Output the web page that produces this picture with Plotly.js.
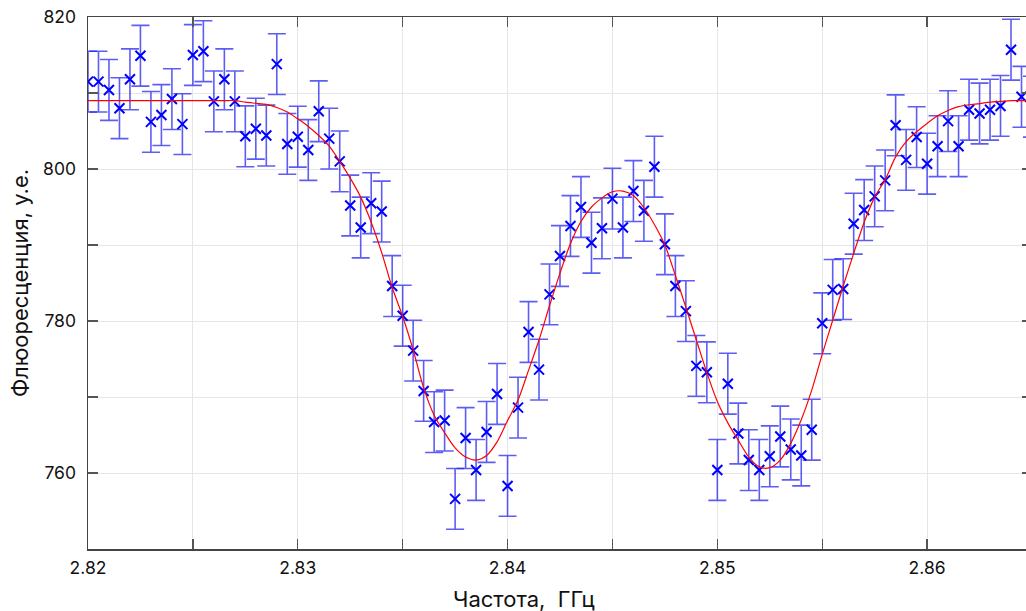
<!DOCTYPE html>
<html>
<head>
<meta charset="utf-8">
<script src="https://cdn.plot.ly/plotly-3.0.1.min.js"></script>
<style>
  html, body { margin: 0; padding: 0; overflow: hidden; background: #fff; }
  #chart { width: 1040px; height: 611px; }
</style>
</head>
<body>
<div id="chart"></div>
<script>
// Frequency, GHz
const freq = [
  2.8200, 2.8205, 2.8210, 2.8215, 2.8220, 2.8225, 2.8230, 2.8235, 2.8240, 2.8245,
  2.8250, 2.8255, 2.8260, 2.8265, 2.8270, 2.8275, 2.8280, 2.8285, 2.8290, 2.8295,
  2.8300, 2.8305, 2.8310, 2.8315, 2.8320, 2.8325, 2.8330, 2.8335, 2.8340, 2.8345,
  2.8350, 2.8355, 2.8360, 2.8365, 2.8370, 2.8375, 2.8380, 2.8385, 2.8390, 2.8395,
  2.8400, 2.8405, 2.8410, 2.8415, 2.8420, 2.8425, 2.8430, 2.8435, 2.8440, 2.8445,
  2.8450, 2.8455, 2.8460, 2.8465, 2.8470, 2.8475, 2.8480, 2.8485, 2.8490, 2.8495,
  2.8500, 2.8505, 2.8510, 2.8515, 2.8520, 2.8525, 2.8530, 2.8535, 2.8540, 2.8545,
  2.8550, 2.8555, 2.8560, 2.8565, 2.8570, 2.8575, 2.8580, 2.8585, 2.8590, 2.8595,
  2.8600, 2.8605, 2.8610, 2.8615, 2.8620, 2.8625, 2.8630, 2.8635, 2.8640, 2.8645,
  2.8650
];

// Measured fluorescence, arb. units
const fluorescence = [
  811.5, 811.5, 810.4, 808.0, 811.8, 814.9, 806.2, 807.1, 809.2, 805.9,
  815.0, 815.5, 808.9, 811.8, 808.9, 804.3, 805.3, 804.4, 813.8, 803.3,
  804.25, 802.5, 807.6, 804.0, 801.0, 795.2, 792.3, 795.5, 794.4, 784.6,
  780.7, 776.1, 770.8, 766.7, 766.9, 756.6, 764.6, 760.4, 765.4, 770.4,
  758.3, 768.6, 778.55, 773.6, 783.5, 788.55, 792.5, 795.0, 790.3, 792.2,
  796.1, 792.3, 797.1, 794.5, 800.3, 790.1, 784.6, 781.3, 774.1, 773.25,
  760.4, 771.75, 765.2, 761.7, 760.4, 762.2, 764.8, 763.1, 762.3, 765.7,
  779.7, 784.1, 784.2, 792.8, 794.6, 796.4, 798.5, 805.75, 801.2, 804.2,
  800.7, 803.0, 806.3, 803.0, 807.8, 807.3, 807.8, 808.3, 815.7, 809.5,
  808.2
];

// Fitted curve at the same frequencies
const fitCurve = [
  809.0, 809.0, 809.0, 809.0, 809.0, 809.0, 809.0, 809.0, 809.0, 809.0,
  809.0, 809.0, 809.0, 809.0, 809.0, 808.8, 808.65, 808.5, 808.1, 807.5,
  806.6, 805.6, 804.4, 803.0, 801.0, 798.8, 796.3, 793.0, 789.0, 784.4,
  780.6, 776.2, 771.2, 767.6, 765.3, 763.3, 762.1, 761.7, 762.3, 764.1,
  766.9, 769.6, 773.5, 777.5, 782.0, 786.3, 790.2, 793.1, 795.0, 796.2,
  797.0, 797.1, 796.5, 794.9, 792.7, 790.0, 786.0, 781.8, 777.5, 773.2,
  769.4, 766.6, 764.3, 762.1, 760.8, 760.7, 761.7, 763.9, 767.0, 770.9,
  775.6, 780.1, 784.6, 788.9, 793.0, 796.3, 798.6, 801.6, 803.6, 804.9,
  806.0, 807.0, 807.7, 808.2, 808.45, 808.6, 808.8, 808.9, 809.0, 809.0,
  809.0
];

const errorHalf = 4;
const xTicks = [2.82, 2.83, 2.84, 2.85, 2.86];
const yTicks = [760, 780, 800, 820];

const font = 'Inter, "Noto Sans", Roboto, sans-serif';

const traces = [
  {
    x: freq, y: fluorescence, type: 'scatter', mode: 'markers',
    marker: { symbol: 'x-thin', size: 10, color: '#0000ff', line: { width: 2, color: '#0000ff' } },
    error_y: { type: 'constant', value: errorHalf, color: 'rgba(30,30,240,0.72)', thickness: 1.6, width: 9 },
    showlegend: false, cliponaxis: true
  },
  {
    x: freq, y: fitCurve, type: 'scatter', mode: 'lines',
    line: { color: '#ff0000', width: 1.2, shape: 'spline', smoothing: 0.8 },
    showlegend: false
  }
];

const axisCommon = {
  ticks: 'inside', ticklen: 10, tickwidth: 1.4, tickcolor: '#555',
  showline: true, linecolor: '#444', linewidth: 1.5, mirror: 'ticks',
  showgrid: true, gridcolor: '#e6e6e6', gridwidth: 1, zeroline: false,
  tickfont: { family: font, size: 17.5, color: '#111' }
};

const layout = {
  width: 1040, height: 611,
  margin: { l: 88, r: 8, t: 17, b: 62 },
  paper_bgcolor: '#fff', plot_bgcolor: '#fff',
  font: { family: font, color: '#111' },
  xaxis: Object.assign({}, axisCommon, {
    range: [2.82, 2.865], tickmode: 'array', tickvals: xTicks,
    ticktext: xTicks.map(v => v.toFixed(2)),
    ticklabelstandoff: 2,
    minor: { dtick: 0.005, tick0: 2.82, ticks: 'inside', ticklen: 10, tickwidth: 1.4, tickcolor: '#555', showgrid: true, gridcolor: '#e6e6e6' }
  }),
  yaxis: Object.assign({}, axisCommon, {
    range: [750, 820], tickmode: 'array', tickvals: yTicks,
    ticktext: yTicks.map(String),
    ticklabelstandoff: 7,
    title: { text: 'Флюоресценция, у.е.', font: { family: font, size: 22, color: '#111' }, standoff: 8 },
    minor: { dtick: 10, tick0: 750, ticks: 'inside', ticklen: 10, tickwidth: 1.4, tickcolor: '#555', showgrid: true, gridcolor: '#e6e6e6' }
  }),
  annotations: [
    { text: 'Частота,  ГГц', xref: 'x', yref: 'paper', x: 2.8408, y: -0.094,
      xanchor: 'center', yanchor: 'middle', showarrow: false,
      font: { family: font, size: 22, color: '#111' } }
  ]
};

Plotly.newPlot('chart', traces, layout, { displayModeBar: false, staticPlot: true });
</script>
</body>
</html>
